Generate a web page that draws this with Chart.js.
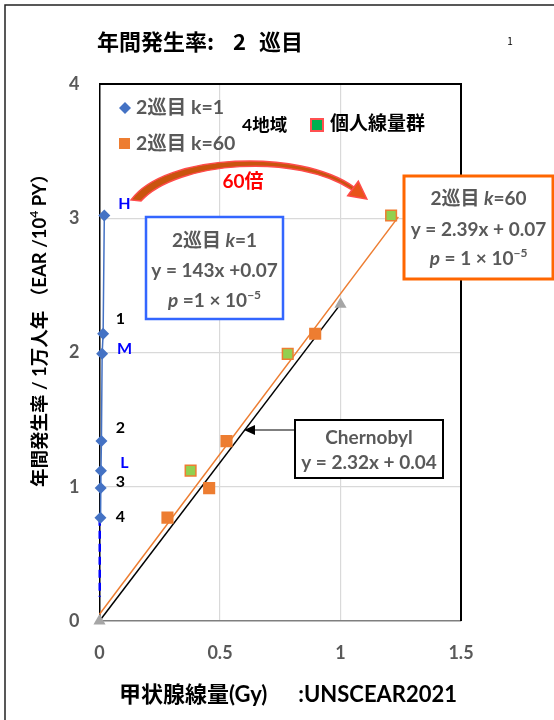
<!DOCTYPE html>
<html><head><meta charset="utf-8">
<script src="https://cdn.jsdelivr.net/npm/chart.js@4.4.1/dist/chart.umd.min.js"></script>
<style>html,body{margin:0;padding:0;background:#fff;}canvas{display:block;}</style>
</head><body>
<canvas id="c" width="554" height="720"></canvas>
<script>
// ---- data ----
const pointLabels = ['H', '1', 'M', '2', 'L', '3', '4'];
const isIndividual = [true, false, true, false, true, false, false];
const rateY = [3.02, 2.14, 1.99, 1.34, 1.12, 0.99, 0.77];
const k1X = [0.020, 0.015, 0.011, 0.008, 0.006, 0.005, 0.004];
const k60X = [1.21, 0.895, 0.781, 0.527, 0.378, 0.455, 0.282];
const dashX = [0.001, 0.001];
const dashY = [0.77, 0.18];
const trendX = [0, 1.24];
const trendY = [0.05, 3.01];
const chernX = [0, 1];
const chernY = [0, 2.36];
const xTicks = [0, 0.5, 1, 1.5];
const yTicks = [0, 1, 2, 3, 4];

const F = "Lato, 'Noto Sans CJK JP', sans-serif";
const GRAY = '#595959';
const pts = (xs, ys) => xs.map((x, i) => ({x: x, y: ys[i]}));

function rich(ctx, segs, cx, cy, align) {
  let w = 0;
  segs.forEach(s => { ctx.font = s.f; s.w = ctx.measureText(s.t).width; w += s.w; });
  let x = align === 'left' ? cx : (align === 'right' ? cx - w : cx - w / 2);
  ctx.textBaseline = 'middle'; ctx.textAlign = 'left';
  segs.forEach(s => { ctx.font = s.f; ctx.fillStyle = s.c; ctx.fillText(s.t, x, cy + (s.dy || 0)); x += s.w; });
}
function txt(ctx, t, f, c, x, y, align) {
  ctx.font = f; ctx.fillStyle = c; ctx.textBaseline = 'middle'; ctx.textAlign = align || 'left';
  ctx.fillText(t, x, y);
}

const annot = {
  id: 'annot',
  afterDraw(chart) {
    const ctx = chart.ctx, a = chart.chartArea;
    const xs = chart.scales.x, ys = chart.scales.y;
    ctx.save();
    // outer frame
    ctx.strokeStyle = '#222'; ctx.lineWidth = 1.5;
    ctx.beginPath(); ctx.moveTo(5, 720); ctx.lineTo(5, 5); ctx.lineTo(554, 5); ctx.stroke();
    // plot top/right border
    ctx.strokeStyle = '#000'; ctx.lineWidth = 2;
    ctx.beginPath(); ctx.moveTo(a.left, a.top); ctx.lineTo(a.right, a.top); ctx.lineTo(a.right, a.bottom); ctx.stroke();

    // title
    const TF = "bold 22px 'Noto Sans CJK JP', sans-serif";
    txt(ctx, '年間発生率:', TF, '#000', 97, 42);
    txt(ctx, '2', TF, '#000', 233, 42);
    txt(ctx, '巡目', TF, '#000', 259, 42);
    txt(ctx, '1', "10px 'Noto Sans CJK JP', sans-serif", '#000', 510, 41, 'center');

    // y title (rotated, reading bottom to top)
    ctx.save();
    ctx.translate(40, 487); ctx.rotate(-Math.PI / 2);
    const YF = 'bold 18.5px ' + F;
    rich(ctx, [
      {t: '年間発生率 / 1万人年 （EAR /10', f: YF, c: '#000'},
      {t: '4', f: 'bold 12px ' + F, c: '#000', dy: -6},
      {t: ' PY）', f: YF, c: '#000'}
    ], 0, 0, 'left');
    ctx.restore();
    // x title
    txt(ctx, '甲状腺線量(Gy)', 'bold 22px ' + F, '#000', 119, 695);
    txt(ctx, ':UNSCEAR2021', 'bold 22px ' + F, '#000', 457, 695, 'right');

    // legend
    ctx.fillStyle = '#4472c4';
    ctx.beginPath(); ctx.moveTo(125, 102); ctx.lineTo(131, 108); ctx.lineTo(125, 114); ctx.lineTo(119, 108); ctx.closePath(); ctx.fill();
    txt(ctx, '2巡目 k=1', 'bold 19.5px ' + F, GRAY, 136, 108);
    ctx.fillStyle = '#ed7d31'; ctx.fillRect(119, 138, 11, 11);
    txt(ctx, '2巡目 k=60', 'bold 19.5px ' + F, GRAY, 136, 144);
    txt(ctx, '4地域', 'bold 17.5px ' + F, '#000', 242, 125);
    ctx.fillStyle = '#00b050'; ctx.fillRect(311, 119, 12, 12);
    ctx.strokeStyle = '#ff5050'; ctx.lineWidth = 2; ctx.strokeRect(311, 119, 12, 12);
    txt(ctx, '個人線量群', 'bold 19px ' + F, '#000', 330, 124);

    // point labels
    const lblDy = [-12, -15, -5, -13, -8, -6, -1];
    pointLabels.forEach((l, i) => {
      const blue = isNaN(+l);
      txt(ctx, l, 'bold 16px ' + F, blue ? '#0000ff' : '#000',
        xs.getPixelForValue(0) + (blue ? 25 : 21), ys.getPixelForValue(rateY[i]) + lblDy[i], 'center');
    });

    // curved arrow 60倍
    ctx.beginPath();
    ctx.moveTo(131, 200);
    ctx.bezierCurveTo(165, 153, 300, 148, 354, 187);
    ctx.lineTo(352, 190);
    ctx.bezierCurveTo(298, 153, 177, 161, 141, 201);
    ctx.closePath();
    ctx.fillStyle = '#c9540e'; ctx.fill();
    ctx.strokeStyle = '#ff4b4b'; ctx.lineWidth = 1.5; ctx.stroke();
    ctx.beginPath();
    ctx.moveTo(347.7, 195.8); ctx.lineTo(358.3, 181.2); ctx.lineTo(366.8, 199); ctx.closePath();
    ctx.fillStyle = '#e8541a'; ctx.fill(); ctx.strokeStyle = '#ff4b4b'; ctx.stroke();
    txt(ctx, '60倍', 'bold 19px ' + F, '#ff0000', 243, 182, 'center');

    const BF = 'bold 19px ' + F, BI = 'italic bold 19px ' + F, BS = 'bold 12px ' + F;
    // blue box
    ctx.fillStyle = '#fff'; ctx.fillRect(146, 217, 137, 102);
    ctx.strokeStyle = '#3366ff'; ctx.lineWidth = 2.5; ctx.strokeRect(146, 217, 137, 102);
    rich(ctx, [{t: '2巡目 ', f: BF, c: GRAY}, {t: 'k', f: BI, c: GRAY}, {t: '=1', f: BF, c: GRAY}], 214.5, 241);
    rich(ctx, [{t: 'y = 143x +0.07', f: BF, c: GRAY}], 214.5, 271);
    rich(ctx, [{t: 'p', f: BI, c: GRAY}, {t: ' =1 × 10', f: BF, c: GRAY}, {t: '−5', f: BS, c: GRAY, dy: -6}], 214.5, 301);

    // orange box
    ctx.fillStyle = '#fff'; ctx.fillRect(404, 176, 149, 103);
    ctx.strokeStyle = '#ff6600'; ctx.lineWidth = 3; ctx.strokeRect(404, 176, 149, 103);
    rich(ctx, [{t: '2巡目 ', f: BF, c: GRAY}, {t: 'k', f: BI, c: GRAY}, {t: '=60', f: BF, c: GRAY}], 478.5, 199);
    rich(ctx, [{t: 'y = 2.39x + 0.07', f: BF, c: GRAY}], 478.5, 230);
    rich(ctx, [{t: 'p', f: BI, c: GRAY}, {t: ' = 1 × 10', f: BF, c: GRAY}, {t: '−5', f: BS, c: GRAY, dy: -6}], 478.5, 259);

    // Chernobyl box + arrow
    ctx.fillStyle = '#fff'; ctx.fillRect(295, 420, 148, 58);
    ctx.strokeStyle = '#000'; ctx.lineWidth = 2; ctx.strokeRect(295, 420, 148, 58);
    rich(ctx, [{t: 'Chernobyl', f: BF, c: GRAY}], 369, 438);
    rich(ctx, [{t: 'y = 2.32x + 0.04', f: BF, c: GRAY}], 369, 463);
    ctx.strokeStyle = '#000'; ctx.lineWidth = 1.2;
    ctx.beginPath(); ctx.moveTo(294, 430); ctx.lineTo(252, 430); ctx.stroke();
    ctx.fillStyle = '#000';
    ctx.beginPath(); ctx.moveTo(244, 430); ctx.lineTo(255, 425); ctx.lineTo(255, 435); ctx.closePath(); ctx.fill();
    ctx.restore();
  }
};

const k60Fill = isIndividual.map(b => b ? '#92d050' : '#ed7d31');

new Chart(document.getElementById('c'), {
  type: 'scatter',
  data: {
    datasets: [
      {label: '2巡目 k=60', data: pts(k60X, rateY), pointStyle: 'rect', pointRadius: 7.5,
       backgroundColor: k60Fill, pointBackgroundColor: k60Fill, borderColor: '#ed7d31', pointBorderColor: '#ed7d31', pointBorderWidth: 1.5, showLine: false, clip: false},
      {label: '2巡目 k=1', data: pts(k1X, rateY), pointStyle: 'rectRot', pointRadius: 6,
       backgroundColor: '#4472c4', borderColor: '#4472c4', borderWidth: 1.5, pointBorderWidth: 0, showLine: true, clip: false},
      {label: 'dash', data: pts(dashX, dashY), showLine: true, borderColor: '#0000ff', borderWidth: 2.5, borderDash: [8, 5], pointRadius: 0, clip: false},
      {label: 'trend60', data: pts(trendX, trendY), showLine: true, borderColor: '#ed7d31', borderWidth: 1.5, pointRadius: 0, clip: false},
      {label: 'Chernobyl', data: pts(chernX, chernY), showLine: true, borderColor: '#000', borderWidth: 1.5,
       pointStyle: 'triangle', pointRadius: 7, pointBackgroundColor: '#a6a6a6', pointBorderColor: '#a6a6a6', pointBorderWidth: 0, clip: false}
    ]
  },
  options: {
    responsive: false, animation: false, devicePixelRatio: 1,
    layout: {padding: {top: 84, right: 93, left: 0, bottom: 0}},
    plugins: {legend: {display: false}, tooltip: {enabled: false}},
    scales: {
      x: {
        type: 'linear', min: 0, max: 1.5,
        afterBuildTicks: s => { s.ticks = xTicks.map(v => ({value: v})); },
        ticks: {color: GRAY, font: {family: 'Lato', weight: 'bold', size: 18}, padding: 21, callback: v => String(v)},
        grid: {drawTicks: false, lineWidth: 1.2, color: c => (c.tick && (c.tick.value === 0.5 || c.tick.value === 1)) ? '#d9d9d9' : 'rgba(0,0,0,0)'},
        border: {color: '#7f7f7f', width: 1.5},
        afterFit: s => { s.height = 99; }
      },
      y: {
        type: 'linear', min: 0, max: 4,
        afterBuildTicks: s => { s.ticks = yTicks.map(v => ({value: v})); },
        ticks: {color: GRAY, font: {family: 'Lato', weight: 'bold', size: 18}, padding: 20},
        grid: {drawTicks: false, lineWidth: 1.2, color: c => (c.tick && c.tick.value > 0 && c.tick.value < 4) ? '#d9d9d9' : 'rgba(0,0,0,0)'},
        border: {color: '#000', width: 1.5},
        afterFit: s => { s.width = 99.5; }
      }
    }
  },
  plugins: [annot]
});
</script>
</body></html>
